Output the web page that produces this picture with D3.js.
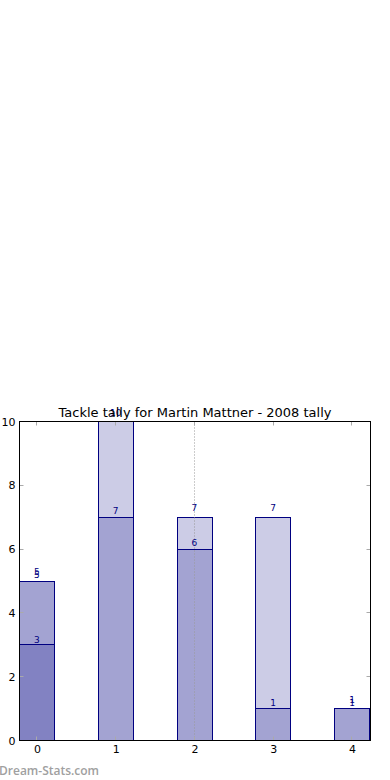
<!DOCTYPE html>
<html>
<head>
<meta charset="utf-8">
<script src="https://cdn.jsdelivr.net/npm/d3@7"></script>
<style>
body { margin: 0; background: #fff; }
svg { display: block; font-family: "DejaVu Sans", sans-serif; }
</style>
</head>
<body>
<svg id="chart" width="390" height="780"></svg>
<script>

// Data
var categories = [0, 1, 2, 3, 4];
var totalTackles = [5, 10, 7, 7, 1];
var madeTackles = [5, 7, 6, 1, 1];
var thirdSeries = [3, 0, 0, 0, 0];
var yTicks = [0, 2, 4, 6, 8, 10];
var markerCategory = 2;

var series = [
	{ values: totalTackles, labelOffset: 6 },
	{ values: madeTackles, labelOffset: 3 },
	{ values: thirdSeries, labelOffset: 2 }
];

var svg = d3.select("#chart");

var plotLeft = 19.5, plotRight = 370.5, plotTop = 421.5, plotBottom = 740.5;

var x = d3.scaleLinear().domain([-0.222, 4.235]).range([plotLeft, plotRight]);
var y = d3.scaleLinear().domain([0, 10]).range([plotBottom, plotTop]);
var barWidth = 0.444;

// keep 1px strokes crisp
var snap = function (v) { return Math.round(v - 0.5) + 0.5; };

var toPoints = function (values) {
	return values.map(function (v, i) { return { c: categories[i], v: v }; })
	.filter(function (d) { return d.v > 0; });
};

// Bars, drawn semi-transparent so overlaps darken
series.forEach(function (s) {
	svg.append("g").selectAll("rect")
	.data(toPoints(s.values))
	.enter().append("rect")
	.attr("x", function (d) { return snap(x(d.c - barWidth / 2)); })
	.attr("y", function (d) { return snap(y(d.v)); })
	.attr("width", function (d) { return Math.round(x(d.c + barWidth / 2) - x(d.c - barWidth / 2)); })
	.attr("height", function (d) { return snap(y(0)) - snap(y(d.v)); })
	.style("fill", "rgb(0,0,128)")
	.style("fill-opacity", 0.2)
	.style("stroke", "#000080")
	.style("stroke-width", 1);
});

// Dotted marker line
svg.append("line")
.attr("x1", snap(x(markerCategory))).attr("x2", snap(x(markerCategory)))
.attr("y1", plotTop).attr("y2", plotBottom)
.style("stroke", "#999")
.style("stroke-dasharray", "1,2")
.style("stroke-width", 1);

// Value labels
series.forEach(function (s) {
	svg.append("g").selectAll("text")
	.data(toPoints(s.values))
	.enter().append("text")
	.attr("x", function (d) { return x(d.c); })
	.attr("y", function (d) { return y(d.v) - s.labelOffset; })
	.attr("text-anchor", "middle")
	.style("font-size", "9px")
	.style("fill", "#000080")
	.text(function (d) { return d.v; });
});

// Axes
var xAxis = d3.axisBottom(x).tickValues(categories).tickSize(0).tickPadding(5).tickFormat(d3.format("d"));
var yAxis = d3.axisLeft(y).tickValues(yTicks).tickSize(0).tickPadding(4);

svg.append("g").attr("transform", "translate(0," + plotBottom + ")").call(xAxis)
.call(function (g) { g.select(".domain").remove(); })
.selectAll("text").style("font-size", "11px").style("fill", "#000").style("font-family", "DejaVu Sans");

svg.append("g").attr("transform", "translate(" + plotLeft + ",0)").call(yAxis)
.call(function (g) { g.select(".domain").remove(); })
.selectAll("text").style("font-size", "11px").style("fill", "#000").style("font-family", "DejaVu Sans");

// Inward ticks on all four sides
var tickG = svg.append("g").style("stroke", "#aaa").style("stroke-width", 1);
categories.forEach(function (c) {
	var cx = snap(x(c));
	tickG.append("line").attr("x1", cx).attr("x2", cx).attr("y1", plotBottom).attr("y2", plotBottom - 4);
	tickG.append("line").attr("x1", cx).attr("x2", cx).attr("y1", plotTop).attr("y2", plotTop + 4);
});
yTicks.forEach(function (t) {
	var ty = snap(y(t));
	tickG.append("line").attr("x1", plotLeft).attr("x2", plotLeft + 4).attr("y1", ty).attr("y2", ty);
	tickG.append("line").attr("x1", plotRight).attr("x2", plotRight - 4).attr("y1", ty).attr("y2", ty);
});

// Frame
svg.append("rect")
.attr("x", plotLeft).attr("y", plotTop)
.attr("width", plotRight - plotLeft).attr("height", plotBottom - plotTop)
.style("fill", "none").style("stroke", "#000").style("stroke-width", 1);

// Title
svg.append("text")
.attr("x", (plotLeft + plotRight) / 2)
.attr("y", 417)
.attr("text-anchor", "middle")
.style("font-size", "13px")
.style("fill", "#000")
.text("Tackle tally for Martin Mattner - 2008 tally");

// Watermark
svg.append("text")
.attr("x", -1)
.attr("y", 775)
.style("font-family", "Open Sans")
.style("font-size", "12px")
.style("font-weight", "600")
.style("fill", "#a0a0a0")
.text("Dream-Stats.com");

</script>
</body>
</html>
